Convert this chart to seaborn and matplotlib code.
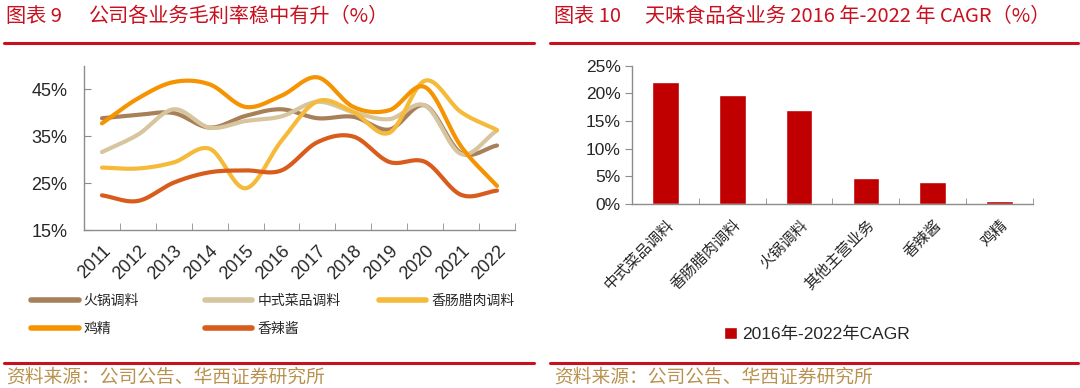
import numpy as np
import pandas as pd
import matplotlib
matplotlib.use('Agg')
import matplotlib.pyplot as plt
from matplotlib.ticker import FuncFormatter, FixedLocator
from matplotlib.lines import Line2D
import seaborn as sns

# data
years = ['2011', '2012', '2013', '2014', '2015', '2016',
         '2017', '2018', '2019', '2020', '2021', '2022']
hotpot = [38.8, 39.5, 39.9, 36.8, 39.3, 40.7, 38.8, 39.1, 36.4, 41.5, 31.4, 33.0]
chinese_dish = [31.6, 35.3, 40.7, 36.8, 38.2, 39.2, 42.3, 40.1, 38.6, 41.5, 31.2, 36.2]
sausage = [28.3, 28.1, 29.4, 32.3, 23.9, 34.0, 42.4, 40.1, 35.7, 46.8, 40.1, 36.3]
chicken = [37.7, 43.0, 46.5, 46.0, 41.2, 43.6, 47.5, 41.2, 40.5, 45.4, 32.8, 24.4]
spicy_sauce = [22.4, 21.2, 25.1, 27.3, 27.7, 27.7, 33.7, 34.9, 29.5, 29.5, 22.5, 23.4]

series_names = ['火锅调料', '中式菜品调料', '香肠腊肉调料', '鸡精', '香辣酱']
series_vals = [hotpot, chinese_dish, sausage, chicken, spicy_sauce]
series_colors = ['#A7805A', '#D6C59E', '#F6BA3A', '#F59300', '#D85C1C']

cagr_cats = ['中式菜品调料', '香肠腊肉调料', '火锅调料', '其他主营业务', '香辣酱', '鸡精']
cagr_vals = [22.1, 19.7, 17.0, 4.7, 3.9, 0.5]

RED = '#C8101E'
SRC = '#B8924E'
GREY = '#8C8C8C'

sns.set_style('white')
plt.rcParams['font.family'] = ['Liberation Sans', 'Noto Sans CJK SC']
plt.rcParams['axes.unicode_minus'] = False


def smooth(y, n=24):
    # smoothed line like the original chart (Catmull-Rom through the read points)
    y = np.asarray(y, dtype=float)
    p = np.concatenate([[2 * y[0] - y[1]], y, [2 * y[-1] - y[-2]]])
    xs, ys = [], []
    for i in range(len(y) - 1):
        t = np.linspace(0, 1, n, endpoint=False)
        p0, p1, p2, p3 = p[i], p[i + 1], p[i + 2], p[i + 3]
        v = 0.5 * (2 * p1 + (-p0 + p2) * t + (2 * p0 - 5 * p1 + 4 * p2 - p3) * t ** 2
                   + (-p0 + 3 * p1 - 3 * p2 + p3) * t ** 3)
        xs.extend(i + t)
        ys.extend(v)
    xs.append(len(y) - 1)
    ys.append(y[-1])
    return np.array(xs), np.array(ys)


frames = []
for name, vals in zip(series_names, series_vals):
    sx, sy = smooth(vals)
    frames.append(pd.DataFrame({'x': sx, 'y': sy, 'series': name}))
df_lines = pd.concat(frames, ignore_index=True)

fig = plt.figure(figsize=(10.8, 3.88), dpi=100)

# ---- left chart ----
ax1 = fig.add_axes([0.0778, 0.407, 0.399, 0.424])
sns.lineplot(data=df_lines, x='x', y='y', hue='series', hue_order=series_names,
             palette=series_colors, sort=False, linewidth=3.0, ax=ax1, legend=False)
ax1.set_xlim(-0.5, len(years) - 0.5)
ax1.set_ylim(15, 50)
ax1.set_yticks([15, 25, 35, 45])
ax1.yaxis.set_major_formatter(FuncFormatter(lambda v, p: f'{v:.0f}%'))
ax1.set_xticks(range(len(years)))
ax1.set_xticklabels(years, rotation=45, ha='right', rotation_mode='anchor')
ax1.xaxis.set_minor_locator(FixedLocator(np.arange(-0.5, len(years), 1.0)))
ax1.tick_params(axis='x', which='major', length=0, pad=9, labelsize=13)
ax1.tick_params(axis='x', which='minor', length=5, direction='in', color=GREY, bottom=True)
ax1.tick_params(axis='y', length=5, direction='in', color=GREY, pad=12, labelsize=13, left=True)
ax1.set_xlabel('')
ax1.set_ylabel('')
for s in ['top', 'right']:
    ax1.spines[s].set_visible(False)
for s in ['left', 'bottom']:
    ax1.spines[s].set_color(GREY)
    ax1.spines[s].set_linewidth(1.0)

# legend, laid out as in the original
handles = {n: Line2D([], [], color=c, linewidth=4.0, solid_capstyle='round')
           for n, c in zip(series_names, series_colors)}
leg_pos = [(0.029, 0.224), (0.19, 0.224), (0.351, 0.224), (0.029, 0.152), (0.19, 0.152)]
for name, (lx, ly) in zip(series_names, leg_pos):
    fig.legend([handles[name]], [name], loc='center left', bbox_to_anchor=(lx, ly),
               frameon=False, handlelength=3.4, handletextpad=0.35,
               borderpad=0, borderaxespad=0, prop={'family': ['Noto Sans CJK SC'], 'size': 10})

# ---- right chart ----
ax2 = fig.add_axes([0.585, 0.474, 0.3716, 0.357])
sns.barplot(x=cagr_cats, y=cagr_vals, color='#C00000', width=0.4, saturation=1,
            ax=ax2, label='2016年-2022年CAGR')
ax2.set_xlim(-0.5, len(cagr_cats) - 0.5)
ax2.set_ylim(0, 25)
ax2.set_yticks([0, 5, 10, 15, 20, 25])
ax2.yaxis.set_major_formatter(FuncFormatter(lambda v, p: f'{v:.0f}%'))
ax2.set_xticks(range(len(cagr_cats)))
ax2.set_xticklabels(cagr_cats, rotation=45, ha='right', rotation_mode='anchor',
                    family=['Noto Sans CJK SC'], fontsize=11)
ax2.xaxis.set_minor_locator(FixedLocator(np.arange(-0.5, len(cagr_cats), 1.0)))
ax2.tick_params(axis='x', which='major', length=0, pad=9)
ax2.tick_params(axis='x', which='minor', length=4, direction='in', color=GREY, bottom=True)
ax2.tick_params(axis='y', length=5, direction='out', color=GREY, pad=3, labelsize=12.5, left=True)
for s in ['top', 'right']:
    ax2.spines[s].set_visible(False)
for s in ['left', 'bottom']:
    ax2.spines[s].set_color(GREY)
    ax2.spines[s].set_linewidth(1.0)
ax2.legend(loc='center', bbox_to_anchor=(817 / 1080, 1 - 334 / 388),
           bbox_transform=fig.transFigure, frameon=False, fontsize=12.5,
           handlelength=0.7, handleheight=0.7, handletextpad=0.3)

# ---- titles, rules and source lines ----
cjk = ['Noto Sans CJK SC', 'DejaVu Sans']
fig.text(0.006, 1 - 16 / 388, '图表 9', color=RED,
         fontsize=14.5, family=cjk, va='center', ha='left')
fig.text(0.082, 1 - 16 / 388, '公司各业务毛利率稳中有升（%）', color=RED,
         fontsize=14.5, family=cjk, va='center', ha='left')
fig.text(0.513, 1 - 16 / 388, '图表 10', color=RED,
         fontsize=14.5, family=cjk, va='center', ha='left')
fig.text(0.597, 1 - 16 / 388, '天味食品各业务 2016 年-2022 年 CAGR（%）', color=RED,
         fontsize=14.5, family=cjk, va='center', ha='left')
for x0, x1 in [(0.004, 0.494), (0.509, 0.998)]:
    fig.add_artist(Line2D([x0, x1], [1 - 42.5 / 388] * 2, color=RED, linewidth=2.2))
    fig.add_artist(Line2D([x0, x1], [1 - 362.5 / 388] * 2, color=RED, linewidth=2.2))
fig.text(0.006, 1 - 377 / 388, '资料来源：公司公告、华西证券研究所', color=SRC,
         fontsize=13.5, family=cjk, va='center', ha='left')
fig.text(0.513, 1 - 377 / 388, '资料来源：公司公告、华西证券研究所', color=SRC,
         fontsize=13.5, family=cjk, va='center', ha='left')

fig.savefig('out.png', dpi=100)
